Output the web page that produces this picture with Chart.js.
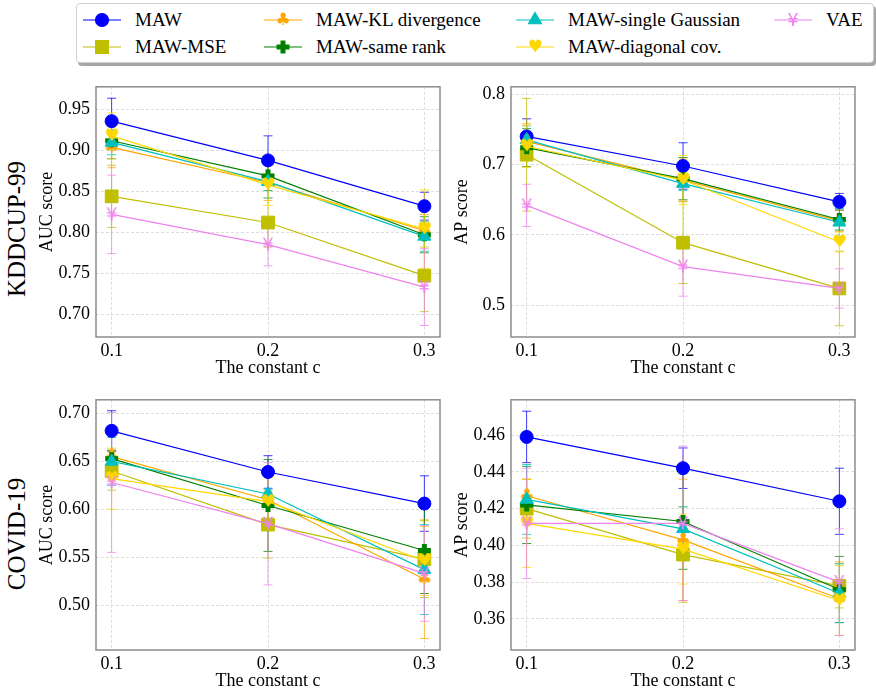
<!DOCTYPE html>
<html>
<head>
<meta charset="utf-8">
<script src="https://cdn.jsdelivr.net/npm/chart.js@4.4.1/dist/chart.umd.min.js"></script>
<style>
  body { margin: 0; width: 876px; height: 692px; overflow: hidden; background: #fff; position: relative;
         font-family: "Liberation Serif", "Times New Roman", serif; color: #000; }
  .plot { position: absolute; }
  #legend { position: absolute; left: 76px; top: 3px; width: 796px; height: 58px; background: #fff;
            border: 1px solid #d0d0d0; border-radius: 4px; box-shadow: 2px 3px 0 rgba(0,0,0,0.35); }
  .item { position: absolute; height: 22px; line-height: 22px; font-size: 19px; white-space: nowrap;
          font-family: "Liberation Serif", serif; }
  .item canvas { position: absolute; left: 0; top: 0; }
  .item span { position: absolute; left: 52px; top: 0; }
  .rowlab { position: absolute; width: 200px; height: 30px; line-height: 30px; text-align: center;
            font-size: 25px; white-space: nowrap; transform: rotate(-90deg); }
</style>
</head>
<body>
<div id="legend"></div>
<div class="rowlab" style="left:-83px; top:214px;">KDDCUP-99</div>
<div class="rowlab" style="left:-83px; top:519px;">COVID-19</div>
<div class="plot" id="p-tl"><canvas id="c-tl"></canvas></div>
<div class="plot" id="p-tr"><canvas id="c-tr"></canvas></div>
<div class="plot" id="p-bl"><canvas id="c-bl"></canvas></div>
<div class="plot" id="p-br"><canvas id="c-br"></canvas></div>
<script>
// x categories (the constant c)
const cValues = [0.1, 0.2, 0.3];
const xTickLabels = ['0.1', '0.2', '0.3'];

const seriesNames = ['MAW', 'MAW-MSE', 'MAW-KL divergence', 'MAW-same rank',
                     'MAW-single Gaussian', 'MAW-diagonal cov.', 'VAE'];
const seriesColors = ['#0000ff', '#bfbf00', '#ffa500', '#008000', '#00bfbf', '#ffd700', '#ee82ee'];
const seriesMarkers = ['circle', 'rect', 'club', 'plus', 'triangle', 'heart', 'yen'];

// KDDCUP-99, AUC
const kddAucMeans = [
  [0.936, 0.888, 0.832],
  [0.844, 0.812, 0.747],
  [0.904, 0.861, 0.802],
  [0.912, 0.869, 0.797],
  [0.910, 0.862, 0.795],
  [0.918, 0.858, 0.804],
  [0.822, 0.785, 0.733]
];
const kddAucErrs = [
  [0.028, 0.030, 0.017],
  [0.038, 0.030, 0.044],
  [0.025, 0.022, 0.020],
  [0.022, 0.018, 0.022],
  [0.015, 0.020, 0.018],
  [0.028, 0.025, 0.048],
  [0.048, 0.026, 0.047]
];
const kddAucTicks = [0.70, 0.75, 0.80, 0.85, 0.90, 0.95];

// KDDCUP-99, AP
const kddApMeans = [
  [0.740, 0.698, 0.647],
  [0.714, 0.589, 0.524],
  [0.733, 0.678, 0.620],
  [0.724, 0.680, 0.622],
  [0.735, 0.673, 0.618],
  [0.726, 0.678, 0.590],
  [0.642, 0.555, 0.524]
];
const kddApErrs = [
  [0.025, 0.033, 0.012],
  [0.080, 0.058, 0.053],
  [0.025, 0.030, 0.015],
  [0.027, 0.030, 0.015],
  [0.020, 0.010, 0.020],
  [0.030, 0.035, 0.014],
  [0.030, 0.042, 0.028]
];
const kddApTicks = [0.5, 0.6, 0.7, 0.8];

// COVID-19, AUC
const covAucMeans = [
  [0.682, 0.639, 0.606],
  [0.640, 0.584, 0.548],
  [0.655, 0.610, 0.527],
  [0.653, 0.604, 0.557],
  [0.650, 0.616, 0.537],
  [0.632, 0.608, 0.546],
  [0.628, 0.585, 0.533]
];
const covAucErrs = [
  [0.021, 0.017, 0.029],
  [0.020, 0.035, 0.040],
  [0.008, 0.030, 0.062],
  [0.008, 0.048, 0.045],
  [0.025, 0.005, 0.047],
  [0.032, 0.025, 0.036],
  [0.073, 0.064, 0.050]
];
const covAucTicks = [0.50, 0.55, 0.60, 0.65, 0.70];

// COVID-19, AP
const covApMeans = [
  [0.459, 0.442, 0.424],
  [0.420, 0.395, 0.378],
  [0.427, 0.403, 0.371],
  [0.422, 0.413, 0.376],
  [0.425, 0.409, 0.374],
  [0.412, 0.398, 0.370],
  [0.412, 0.412, 0.380]
];
const covApErrs = [
  [0.014, 0.011, 0.018],
  [0.016, 0.026, 0.012],
  [0.009, 0.033, 0.020],
  [0.021, 0.026, 0.018],
  [0.019, 0.012, 0.016],
  [0.024, 0.019, 0.019],
  [0.030, 0.042, 0.029]
];
const covApTicks = [0.36, 0.38, 0.40, 0.42, 0.44, 0.46];

const FONT = '"Liberation Serif", serif';

function withAlpha(hex, a) {
  const n = parseInt(hex.slice(1), 16);
  return `rgba(${(n >> 16) & 255},${(n >> 8) & 255},${n & 255},${a})`;
}

function glyphMarker(ch, color, px, w) {
  const c = document.createElement('canvas');
  c.width = w; c.height = w;
  const g = c.getContext('2d');
  g.fillStyle = color;
  g.font = px + 'px "DejaVu Sans"';
  g.textAlign = 'center';
  g.textBaseline = 'middle';
  g.fillText(ch, w / 2, w / 2 + 1);
  return c;
}

function plusMarker(color) {
  const c = document.createElement('canvas');
  c.width = 15; c.height = 15;
  const g = c.getContext('2d');
  g.fillStyle = color;
  g.fillRect(5, 1, 5, 13);
  g.fillRect(1, 5, 13, 5);
  return c;
}

function markerFor(kind, color) {
  if (kind === 'circle') return { style: 'circle', radius: 6.5 };
  if (kind === 'rect') return { style: 'rect', radius: 9 };
  if (kind === 'triangle') return { style: 'triangle', radius: 7.5 };
  if (kind === 'plus') return { style: plusMarker(color), radius: 7 };
  if (kind === 'club') return { style: glyphMarker('\u2663', color, 17, 20), radius: 7 };
  if (kind === 'heart') return { style: glyphMarker('\u2665', color, 17, 20), radius: 7 };
  return { style: glyphMarker('\u00a5', color, 18, 20), radius: 7 };
}

const markers = seriesMarkers.map((m, i) => markerFor(m, seriesColors[i]));

const errorBarPlugin = {
  id: 'errorBars',
  beforeDatasetsDraw(chart) {
    const { ctx, scales: { x, y } } = chart;
    ctx.save();
    chart.data.datasets.forEach((ds) => {
      ctx.strokeStyle = withAlpha(ds.borderColor, 0.75);
      ctx.lineWidth = 1;
      ds.data.forEach((p) => {
        const px = x.getPixelForValue(p.x);
        const top = y.getPixelForValue(p.y + p.err);
        const bot = y.getPixelForValue(p.y - p.err);
        ctx.beginPath();
        ctx.moveTo(px, top); ctx.lineTo(px, bot);
        ctx.moveTo(px - 4.5, top); ctx.lineTo(px + 4.5, top);
        ctx.moveTo(px - 4.5, bot); ctx.lineTo(px + 4.5, bot);
        ctx.stroke();
      });
    });
    ctx.restore();
  }
};

const framePlugin = {
  id: 'frame',
  afterDraw(chart) {
    const { ctx, chartArea: a } = chart;
    ctx.save();
    ctx.strokeStyle = '#8c8c8c';
    ctx.lineWidth = 1.5;
    ctx.strokeRect(a.left, a.top, a.right - a.left, a.bottom - a.top);
    ctx.restore();
  }
};

// box = plot area in page pixels
function makePlot(key, box, means, errs, yMin, yMax, yTicks, yDigits, yTitle) {
  const wrap = document.getElementById('p-' + key);
  wrap.style.left = (box.left - 60) + 'px';
  wrap.style.top = (box.top - 7) + 'px';
  wrap.style.width = (box.right - box.left + 68) + 'px';
  wrap.style.height = (box.bottom - box.top + 57) + 'px';

  const datasets = means.map((vals, i) => ({
    label: seriesNames[i],
    data: cValues.map((c, j) => ({ x: c, y: vals[j], err: errs[i][j] })),
    borderColor: seriesColors[i],
    backgroundColor: seriesColors[i],
    borderWidth: 1.2,
    pointStyle: markers[i].style,
    pointRadius: markers[i].radius,
    pointBorderWidth: 1,
    pointBackgroundColor: seriesColors[i],
    pointBorderColor: seriesColors[i],
    tension: 0,
    fill: false,
    order: means.length - i
  }));

  const gridCfg = { color: '#d4d4d4', lineWidth: 0.8, drawTicks: false };
  const borderCfg = { display: false, dash: [3, 2] };

  return new Chart(document.getElementById('c-' + key), {
    type: 'line',
    data: { datasets },
    options: {
      responsive: true,
      maintainAspectRatio: false,
      animation: false,
      devicePixelRatio: 1,
      layout: { padding: { left: 0, right: 8, top: 7, bottom: 0 } },
      plugins: { legend: { display: false }, tooltip: { enabled: false } },
      scales: {
        x: {
          type: 'linear', min: 0.09, max: 0.31,
          afterBuildTicks: (ax) => { ax.ticks = cValues.map(v => ({ value: v })); },
          afterFit: (ax) => { ax.height = 50; },
          ticks: { callback: (v) => xTickLabels[cValues.indexOf(v)], color: '#000', padding: 3,
                   font: { family: FONT, size: 18 }, maxRotation: 0 },
          grid: gridCfg, border: borderCfg,
          title: { display: true, text: 'The constant c', color: '#000',
                   font: { family: FONT, size: 18 }, padding: { top: 0, bottom: 8 } }
        },
        y: {
          type: 'linear', min: yMin, max: yMax,
          afterBuildTicks: (ax) => { ax.ticks = yTicks.map(v => ({ value: v })); },
          afterFit: (ax) => { ax.width = 60; },
          ticks: { callback: (v) => v.toFixed(yDigits), color: '#000', padding: 6,
                   font: { family: FONT, size: 18 } },
          grid: gridCfg, border: borderCfg,
          title: { display: true, text: yTitle, color: '#000',
                   font: { family: FONT, size: 18 }, padding: { top: 0, bottom: 0 } }
        }
      }
    },
    plugins: [errorBarPlugin, framePlugin]
  });
}

makePlot('tl', { left: 96, right: 442, top: 77, bottom: 337 }, kddAucMeans, kddAucErrs, 0.672, 0.978, kddAucTicks, 2, 'AUC score');
makePlot('tr', { left: 511, right: 857, top: 77, bottom: 337 }, kddApMeans, kddApErrs, 0.455, 0.8105, kddApTicks, 1, 'AP score');
makePlot('bl', { left: 96, right: 442, top: 390, bottom: 650 }, covAucMeans, covAucErrs, 0.453, 0.7144, covAucTicks, 2, 'AUC score');
makePlot('br', { left: 511, right: 857, top: 390, bottom: 650 }, covApMeans, covApErrs, 0.3431, 0.4792, covApTicks, 2, 'AP score');

// legend (matplotlib-style, 4 columns filled column-wise)
const legendCols = [83, 264, 516, 774];
const legendRows = [20, 47];
const legend = document.getElementById('legend');
seriesNames.forEach((name, i) => {
  const col = Math.floor(i / 2), row = i % 2;
  const item = document.createElement('div');
  item.className = 'item';
  item.style.left = (legendCols[col] - 77) + 'px';
  item.style.top = (legendRows[row] - 11 - 4) + 'px';
  const icon = document.createElement('canvas');
  icon.width = 38; icon.height = 22;
  const g = icon.getContext('2d');
  g.strokeStyle = seriesColors[i];
  g.lineWidth = 1.2;
  g.beginPath(); g.moveTo(0, 11); g.lineTo(38, 11); g.stroke();
  g.fillStyle = seriesColors[i];
  Chart.helpers.drawPoint(g, { pointStyle: markers[i].style, radius: markers[i].radius, rotation: 0, borderWidth: 1 }, 19, 11);
  const label = document.createElement('span');
  label.textContent = name;
  item.appendChild(icon);
  item.appendChild(label);
  legend.appendChild(item);
});
</script>
</body>
</html>
